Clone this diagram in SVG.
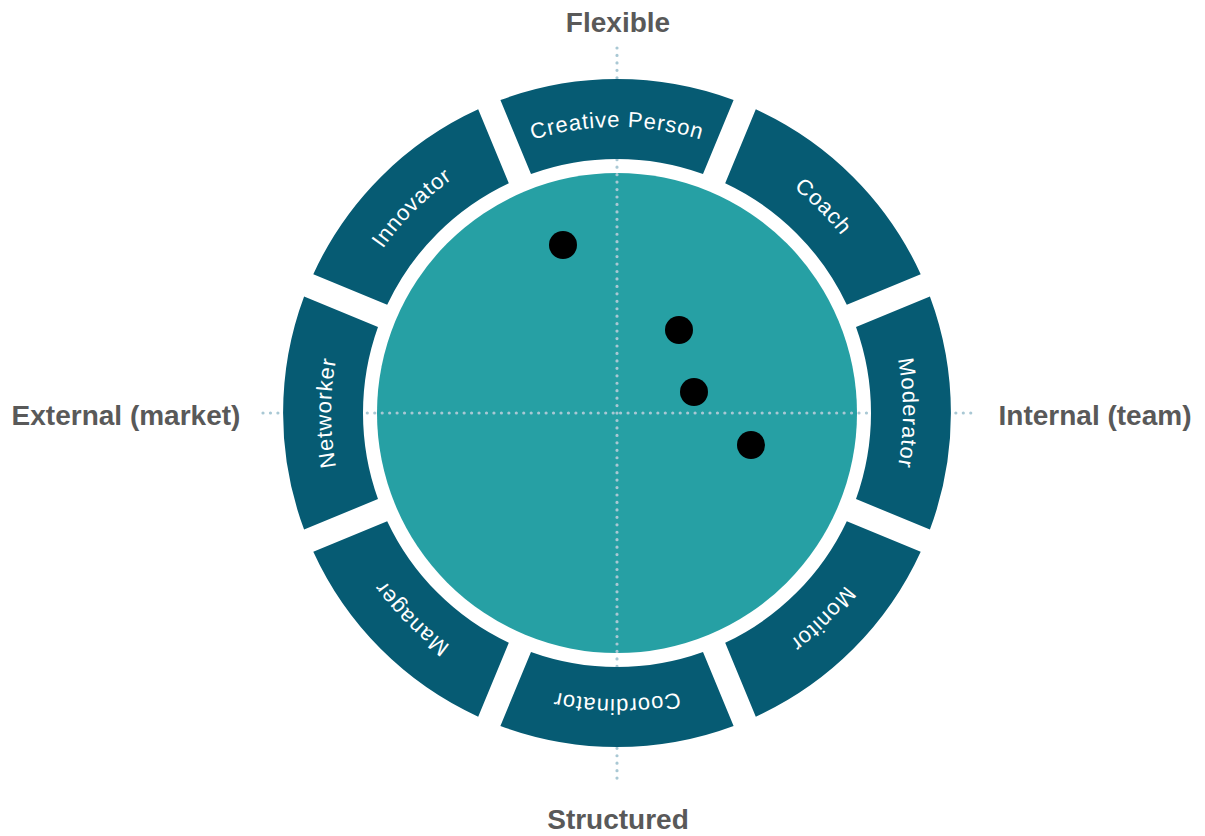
<svg xmlns="http://www.w3.org/2000/svg" xmlns:xlink="http://www.w3.org/1999/xlink" width="1205" height="836" viewBox="0 0 1205 836">
  <style>
    .seg { fill: #065B73; }
    .segtext { font-family: "Liberation Sans", Arial, sans-serif; font-size: 22px; letter-spacing: 0.9px; fill: #FFFFFF; }
    .axis { font-family: "Liberation Sans", Arial, sans-serif; font-weight: bold; font-size: 28px; fill: #595959; }
    .dotline { stroke: #A9C8D4; stroke-width: 3.2; stroke-linecap: round; stroke-dasharray: 0 7.45; fill: none; }
    .pt { fill: #000000; }
  </style>
  <defs>
    <path id="segshape" d="M -116.6,-312.9 A 334 334 0 0 1 116.6,-312.9 L 86.0,-239.0 A 254 254 0 0 0 -86.0,-239.0 Z"/>
    <path id="tp" d="M -183.8,-219.1 A 286 286 0 0 1 183.8,-219.1"/>
  </defs>
  <rect width="1205" height="836" fill="#FFFFFF"/>

  <g id="center-circle">
    <circle cx="617" cy="413" r="240" fill="#26A0A4"/>
  </g>

  <g id="connectors">
    <line class="dotline" x1="617" y1="48" x2="617" y2="782"/>
    <line class="dotline" x1="263" y1="413" x2="972" y2="413"/>
  </g>

  <g id="creative-person" transform="translate(617,413)">
    <use href="#segshape" class="seg"/>
    <text class="segtext" text-anchor="middle"><textPath href="#tp" startOffset="50%">Creative Person</textPath></text>
  </g>
  <g id="coach" transform="translate(617,413) rotate(45)">
    <use href="#segshape" class="seg"/>
    <text class="segtext" text-anchor="middle"><textPath href="#tp" startOffset="50%">Coach</textPath></text>
  </g>
  <g id="moderator" transform="translate(617,413) rotate(90)">
    <use href="#segshape" class="seg"/>
    <text class="segtext" text-anchor="middle"><textPath href="#tp" startOffset="50%">Moderator</textPath></text>
  </g>
  <g id="monitor" transform="translate(617,413) rotate(135)">
    <use href="#segshape" class="seg"/>
    <text class="segtext" text-anchor="middle"><textPath href="#tp" startOffset="50%">Monitor</textPath></text>
  </g>
  <g id="coordinator" transform="translate(617,413) rotate(180)">
    <use href="#segshape" class="seg"/>
    <text class="segtext" text-anchor="middle"><textPath href="#tp" startOffset="50%">Coordinator</textPath></text>
  </g>
  <g id="manager" transform="translate(617,413) rotate(225)">
    <use href="#segshape" class="seg"/>
    <text class="segtext" text-anchor="middle"><textPath href="#tp" startOffset="50%">Manager</textPath></text>
  </g>
  <g id="networker" transform="translate(617,413) rotate(270)">
    <use href="#segshape" class="seg"/>
    <text class="segtext" text-anchor="middle"><textPath href="#tp" startOffset="50%">Networker</textPath></text>
  </g>
  <g id="innovator" transform="translate(617,413) rotate(315)">
    <use href="#segshape" class="seg"/>
    <text class="segtext" text-anchor="middle"><textPath href="#tp" startOffset="50%">Innovator</textPath></text>
  </g>

  <g id="data-points">
    <circle class="pt" cx="563" cy="245" r="14"/>
    <circle class="pt" cx="679" cy="330" r="14"/>
    <circle class="pt" cx="694" cy="392" r="14"/>
    <circle class="pt" cx="751" cy="445" r="14"/>
  </g>

  <g id="label-flexible"><text class="axis" x="618" y="32" text-anchor="middle">Flexible</text></g>
  <g id="label-structured"><text class="axis" x="618" y="829" text-anchor="middle">Structured</text></g>
  <g id="label-external"><text class="axis" x="126" y="425" text-anchor="middle">External (market)</text></g>
  <g id="label-internal"><text class="axis" x="1095" y="425" text-anchor="middle">Internal (team)</text></g>
</svg>
